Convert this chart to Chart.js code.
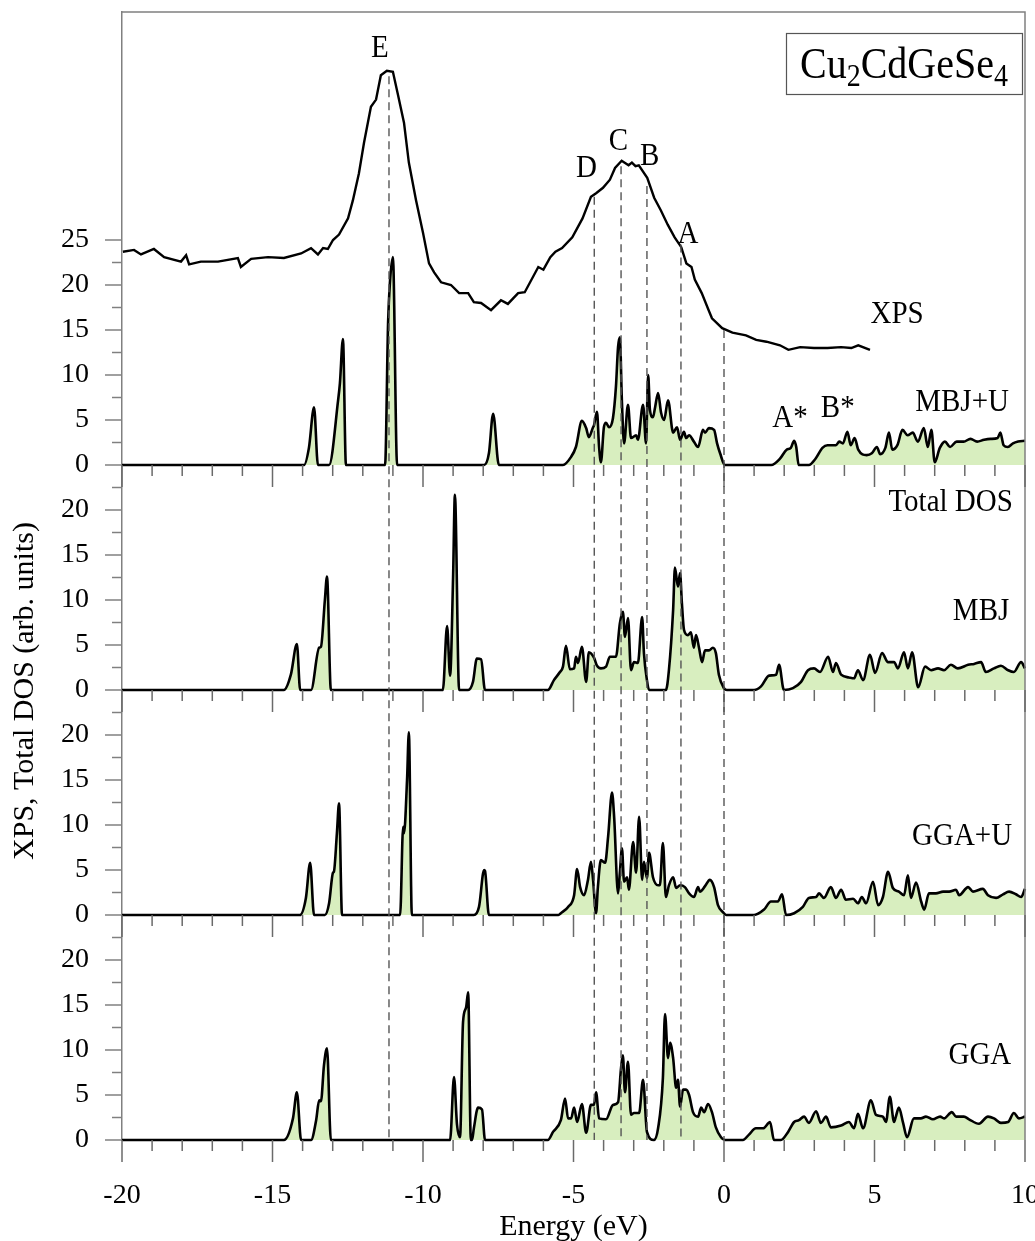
<!DOCTYPE html>
<html>
<head>
<meta charset="utf-8">
<title>Cu2CdGeSe4 XPS and total DOS</title>
<script src="https://cdn.jsdelivr.net/npm/chart.js@4.4.1/dist/chart.umd.min.js"></script>
<style>
  html, body { margin:0; padding:0; background:#ffffff; }
  #box { width:1035px; height:1241px; }
</style>
</head>
<body>
<div id="box"><canvas id="chart" width="1035" height="1241"></canvas></div>
<script>
// ---------------- data (energy in eV, intensity / DOS in arb. units) ----------------
const xpsCurve = [[-19.97,23.7],[-19.60,23.9],[-19.37,23.4],[-18.94,24.0],[-18.60,23.1],[-18.04,22.6],[-17.87,23.3],[-17.77,22.3],[-17.38,22.6],[-16.81,22.6],[-16.15,23.0],[-16.05,22.0],[-15.71,22.9],[-15.15,23.1],[-14.62,23.0],[-14.05,23.5],[-13.72,24.1],[-13.49,23.4],[-13.32,24.1],[-13.16,24.0],[-12.99,25.0],[-12.79,25.6],[-12.49,27.4],[-12.33,29.4],[-12.13,32.4],[-11.96,35.8],[-11.73,39.8],[-11.56,40.6],[-11.40,43.3],[-11.20,43.8],[-11.00,43.7],[-10.83,41.1],[-10.63,38.0],[-10.47,33.6],[-10.23,29.4],[-10.00,25.8],[-9.80,22.4],[-9.63,21.4],[-9.40,20.3],[-9.07,20.0],[-8.80,19.1],[-8.50,19.1],[-8.31,18.1],[-8.07,18.0],[-7.74,17.2],[-7.41,18.3],[-7.18,17.9],[-6.84,19.1],[-6.62,19.2],[-6.17,22.0],[-6.00,21.7],[-5.77,23.1],[-5.60,23.7],[-5.38,24.1],[-5.04,25.3],[-4.70,27.4],[-4.42,29.8],[-4.25,30.2],[-4.02,30.8],[-3.79,31.7],[-3.62,33.0],[-3.40,33.8],[-3.17,33.3],[-3.06,33.6],[-2.94,33.2],[-2.83,33.3],[-2.55,31.9],[-2.32,29.7],[-2.10,28.3],[-1.87,26.7],[-1.64,25.3],[-1.42,24.2],[-1.25,22.4],[-1.08,22.0],[-0.97,20.6],[-0.74,19.1],[-0.51,17.2],[-0.40,16.3],[-0.06,15.2],[0.28,14.7],[0.73,14.4],[1.07,13.9],[1.41,13.7],[1.86,13.3],[2.14,12.8],[2.53,13.1],[2.99,13.0],[3.44,13.0],[3.89,13.1],[4.23,13.0],[4.46,13.3],[4.85,12.8]];

const dosMBJU = [[-20,0],[-13.95,0],[-13.79,1.9],[-13.62,6.4],[-13.49,0],[-13.12,0],[-12.82,7.2],[-12.76,9.1],[-12.66,14.0],[-12.56,0],[-11.26,0],[-11.16,15.8],[-11.10,20.2],[-11.00,23.1],[-10.86,0],[-7.97,0],[-7.81,1.3],[-7.67,5.7],[-7.48,0],[-5.35,0],[-5.08,0.9],[-4.92,2.0],[-4.72,4.9],[-4.58,4.1],[-4.49,3.1],[-4.35,4.2],[-4.32,4.4],[-4.22,5.9],[-4.15,2.0],[-4.09,0.3],[-3.99,4.2],[-3.92,4.7],[-3.82,4.2],[-3.69,5.2],[-3.59,8.7],[-3.52,13.1],[-3.46,14.2],[-3.39,6.9],[-3.32,2.4],[-3.19,6.7],[-3.09,3.0],[-2.92,3.3],[-2.86,2.8],[-2.69,6.7],[-2.59,2.4],[-2.52,10.0],[-2.46,6.1],[-2.36,5.3],[-2.29,6.4],[-2.19,8.0],[-2.09,5.8],[-1.99,5.0],[-1.86,7.2],[-1.69,3.6],[-1.56,4.2],[-1.46,2.8],[-1.33,3.7],[-1.26,3.0],[-1.16,3.3],[-1.00,2.6],[-0.86,2.0],[-0.70,3.9],[-0.63,3.6],[-0.50,4.1],[-0.33,3.9],[-0.23,2.4],[-0.13,1.3],[0.03,0],[1.57,0],[1.86,0.7],[2.08,1.7],[2.22,1.9],[2.33,2.7],[2.40,2.0],[2.48,0],[2.82,0],[3.04,0.7],[3.27,1.9],[3.44,2.2],[3.72,2.2],[3.83,2.6],[3.95,2.4],[4.10,3.7],[4.21,2.2],[4.34,3.0],[4.46,1.7],[4.74,1.1],[4.91,1.3],[5.08,2.0],[5.19,1.2],[5.36,1.9],[5.48,3.6],[5.59,1.7],[5.76,2.2],[5.93,3.9],[6.10,3.3],[6.27,3.6],[6.44,2.6],[6.64,4.1],[6.77,2.0],[6.89,3.9],[7.00,0.3],[7.17,1.9],[7.34,2.6],[7.51,2.0],[7.73,2.6],[7.96,2.6],[8.19,2.9],[8.41,2.6],[8.64,2.8],[8.86,2.9],[9.09,3.0],[9.18,3.6],[9.29,2.2],[9.43,2.0],[9.60,2.4],[9.77,2.6],[10.0,2.7]];

const dosMBJ = [[-20,0],[-14.62,0],[-14.39,1.7],[-14.19,5.1],[-14.08,0],[-13.72,0],[-13.45,4.7],[-13.39,4.8],[-13.26,10.0],[-13.19,12.6],[-13.06,0],[-9.34,0],[-9.20,7.1],[-9.10,1.6],[-9.00,12.6],[-8.94,21.7],[-8.80,0],[-8.50,0],[-8.34,0.9],[-8.21,3.5],[-8.07,3.4],[-7.94,0],[-5.85,0],[-5.65,1.1],[-5.45,2.0],[-5.35,2.6],[-5.25,4.9],[-5.12,2.3],[-4.98,2.4],[-4.92,3.7],[-4.85,3.0],[-4.72,4.8],[-4.58,0.9],[-4.49,4.2],[-4.32,3.6],[-4.22,2.7],[-4.09,2.4],[-3.92,2.6],[-3.79,3.7],[-3.59,3.7],[-3.46,7.4],[-3.36,8.7],[-3.29,5.9],[-3.19,8.0],[-3.09,2.2],[-2.99,3.1],[-2.86,3.0],[-2.72,8.1],[-2.66,4.1],[-2.56,1.1],[-2.49,0],[-1.93,0],[-1.83,2.2],[-1.69,8.9],[-1.63,13.6],[-1.53,11.5],[-1.46,13.0],[-1.40,9.7],[-1.33,6.7],[-1.20,6.1],[-1.10,6.4],[-1.00,4.7],[-0.93,6.1],[-0.83,4.7],[-0.73,3.1],[-0.63,4.4],[-0.50,4.4],[-0.37,4.7],[-0.27,4.1],[-0.17,1.7],[0.00,0.2],[0.10,0],[1.00,0],[1.23,0.4],[1.50,1.6],[1.73,1.7],[1.83,2.8],[1.99,0],[2.29,0.2],[2.56,0.9],[2.79,2.2],[2.99,2.4],[3.19,2.0],[3.46,3.7],[3.62,2.0],[3.72,3.0],[3.89,1.7],[4.15,1.4],[4.32,1.3],[4.45,2.2],[4.62,1.1],[4.85,3.9],[5.02,1.9],[5.25,4.1],[5.45,3.1],[5.65,3.1],[5.78,2.4],[5.98,4.2],[6.11,2.4],[6.25,4.2],[6.45,0.3],[6.68,2.6],[6.88,2.2],[7.11,2.4],[7.31,2.2],[7.54,2.8],[7.77,2.4],[8.11,2.8],[8.31,2.9],[8.54,3.1],[8.70,2.0],[8.97,2.4],[9.20,2.7],[9.44,2.2],[9.63,2.0],[9.87,3.1],[10.0,2.4]];

const dosGGAU = [[-20,0],[-14.09,0],[-13.89,1.9],[-13.75,5.8],[-13.62,0],[-13.26,0],[-13.12,1.3],[-12.99,4.7],[-12.96,4.8],[-12.86,9.1],[-12.79,12.4],[-12.69,0],[-10.76,0],[-10.66,9.8],[-10.63,9.1],[-10.53,15.0],[-10.47,20.3],[-10.37,0],[-8.31,0],[-8.14,0.9],[-7.97,5.0],[-7.94,4.9],[-7.81,0],[-5.50,0],[-5.42,0.2],[-5.18,0.9],[-4.98,2.2],[-4.88,5.1],[-4.78,3.1],[-4.65,2.2],[-4.52,3.9],[-4.42,5.9],[-4.35,3.9],[-4.25,0.2],[-4.19,3.1],[-4.09,6.1],[-3.95,5.8],[-3.85,8.7],[-3.72,13.6],[-3.65,10.9],[-3.52,2.4],[-3.46,4.7],[-3.39,7.4],[-3.32,3.7],[-3.22,4.2],[-3.16,2.8],[-3.02,8.1],[-2.92,4.7],[-2.82,10.9],[-2.72,3.9],[-2.66,5.9],[-2.56,4.1],[-2.49,6.9],[-2.36,4.2],[-2.19,3.3],[-2.13,3.3],[-2.03,8.0],[-1.93,2.0],[-1.83,3.3],[-1.69,4.2],[-1.59,3.0],[-1.46,3.3],[-1.30,3.1],[-1.16,2.4],[-1.00,2.0],[-0.86,3.1],[-0.80,2.6],[-0.63,3.2],[-0.47,3.9],[-0.33,3.1],[-0.20,1.1],[-0.03,0.3],[0.07,0],[1.00,0],[1.33,0.6],[1.56,1.5],[1.79,1.5],[1.93,2.3],[2.06,0],[2.33,0.2],[2.62,0.9],[2.82,1.9],[3.06,2.0],[3.16,2.4],[3.32,1.9],[3.55,3.1],[3.72,1.9],[3.89,2.8],[4.05,1.7],[4.29,1.8],[4.45,1.3],[4.58,2.0],[4.72,1.3],[4.95,3.7],[5.12,1.1],[5.28,2.0],[5.45,4.8],[5.61,3.0],[5.81,2.6],[5.98,2.2],[6.11,4.4],[6.21,1.9],[6.38,3.6],[6.55,1.5],[6.65,0.6],[6.81,2.4],[7.04,2.4],[7.28,2.6],[7.48,2.6],[7.71,2.8],[7.81,2.2],[8.11,3.1],[8.27,2.6],[8.60,2.9],[8.77,2.2],[9.04,1.9],[9.27,2.3],[9.47,2.6],[9.70,2.3],[9.87,2.0],[10.0,2.9]];

const dosGGA = [[-20,0],[-14.62,0],[-14.32,2.4],[-14.19,5.3],[-14.05,0],[-13.72,0],[-13.55,2.2],[-13.45,4.4],[-13.39,4.3],[-13.29,8.3],[-13.19,10.2],[-13.06,0],[-9.10,0],[-8.97,7.0],[-8.87,1.7],[-8.77,0.3],[-8.67,13.1],[-8.57,14.7],[-8.50,16.4],[-8.41,0],[-8.37,0],[-8.31,1.3],[-8.17,3.6],[-8.04,3.4],[-7.94,0],[-5.85,0],[-5.68,0.9],[-5.42,2.2],[-5.28,4.6],[-5.18,2.4],[-5.08,2.4],[-4.98,3.6],[-4.88,2.0],[-4.72,4.0],[-4.58,0.8],[-4.42,3.9],[-4.32,3.9],[-4.25,5.3],[-4.15,2.4],[-3.92,2.3],[-3.69,3.9],[-3.52,4.2],[-3.42,8.0],[-3.36,9.4],[-3.29,5.3],[-3.19,8.7],[-3.09,2.8],[-2.99,3.0],[-2.82,3.0],[-2.69,6.7],[-2.56,0.9],[-2.33,0],[-2.19,1.3],[-2.03,6.9],[-1.96,14.0],[-1.86,9.1],[-1.79,10.8],[-1.69,9.1],[-1.59,5.8],[-1.53,6.7],[-1.46,3.7],[-1.36,5.6],[-1.26,5.6],[-1.16,5.0],[-1.03,3.1],[-0.86,2.6],[-0.76,3.6],[-0.66,3.1],[-0.53,4.0],[-0.40,3.1],[-0.27,1.4],[-0.10,0.3],[0.03,0],[0.63,0],[0.83,0.6],[1.06,1.3],[1.30,1.3],[1.53,2.0],[1.66,0],[1.89,0],[2.13,0.9],[2.33,2.0],[2.49,2.2],[2.66,2.6],[2.82,1.9],[3.06,3.2],[3.22,1.9],[3.39,2.6],[3.55,1.4],[3.89,1.6],[4.15,2.0],[4.32,1.3],[4.45,2.9],[4.62,1.3],[4.88,4.4],[5.05,2.8],[5.28,2.6],[5.38,2.0],[5.51,4.8],[5.65,2.0],[5.71,2.6],[5.81,3.6],[5.95,1.9],[6.08,0.3],[6.31,2.4],[6.54,2.4],[6.71,2.6],[6.94,2.3],[7.18,2.6],[7.31,2.4],[7.57,3.1],[7.71,2.6],[7.97,2.6],[8.14,2.3],[8.47,1.8],[8.77,2.6],[8.97,2.4],[9.20,1.9],[9.44,2.0],[9.63,3.0],[9.80,2.4],[10.0,2.6]];

// XPS features (dashed guide lines): energy and XPS intensity at the line top
const featureNames  = ['E', 'D', 'C', 'B', 'A', 'VBM'];
const featureEnergy = [-11.13, -4.31, -3.42, -2.56, -1.43, 0];
const featureTop    = [43.2, 29.8, 33.2, 31.0, 24.5, 15.0];

// tick values
const energyTicks = [-20, -15, -10, -5, 0, 5, 10];
const xpsTicks = [0, 2.5, 5, 7.5, 10, 12.5, 15, 17.5, 20, 22.5, 25];
const dosTicks = [0, 2.5, 5, 7.5, 10, 12.5, 15, 17.5, 20, 22.5];

// ---------------- presentation ----------------
const FONT = "'Liberation Serif', 'Times New Roman', serif";
const PANEL_AXES = ['yTop', 'yMBJ', 'yGGAU', 'yGGA'];
const FILL = '#d8eebf';
const STRETCH = 1.12;   // the original lettering is slightly tall

const textLabels = [
  {t:'E',        axis:'yTop',  x:-11.43, y:46.3},
  {t:'D',        axis:'yTop',  x:-4.57,  y:32.9},
  {t:'C',        axis:'yTop',  x:-3.51,  y:35.9},
  {t:'B',        axis:'yTop',  x:-2.47,  y:34.3},
  {t:'A',        axis:'yTop',  x:-1.20,  y:25.6},
  {t:'XPS',      axis:'yTop',  x:5.75,   y:16.7},
  {t:'A*',       axis:'yTop',  x:2.19,   y:5.2},
  {t:'B*',       axis:'yTop',  x:3.78,   y:6.3},
  {t:'MBJ+U',    axis:'yTop',  x:7.91,   y:6.9},
  {t:'Total DOS',axis:'yMBJ',  x:7.53,   y:20.8},
  {t:'MBJ',      axis:'yMBJ',  x:8.54,   y:8.7},
  {t:'GGA+U',    axis:'yGGAU', x:7.91,   y:8.7},
  {t:'GGA',      axis:'yGGA',  x:8.50,   y:9.4}
];

const pts = arr => arr.map(([x, y]) => ({x, y}));

function dosDataset(label, arr, axis) {
  return {
    label, data: pts(arr), yAxisID: axis,
    borderColor: '#000', borderWidth: 2.6, pointRadius: 0,
    fill: 'origin', backgroundColor: FILL,
    cubicInterpolationMode: 'monotone', clip: false
  };
}

function yAxis(weight, max, tickList, labelMax) {
  return {
    type: 'linear', position: 'left', stack: 'panels', stackWeight: weight,
    min: 0, max: max,
    afterBuildTicks: ax => { ax.ticks = tickList.map(v => ({value: v})); },
    afterFit: ax => { ax.width = 122; ax.paddingTop = 0; ax.paddingBottom = 0; },
    ticks: {
      autoSkip: false, padding: 33, color: '#000',
      font: {family: FONT, size: 28},
      callback: v => (Math.abs(v % 5) < 1e-6 && v <= labelMax ? String(v) : '')
    },
    grid: {display: false, drawTicks: false},
    border: {display: true, color: '#808080', width: 1.5}
  };
}

function tallText(ctx, text, x, y) {
  ctx.save();
  ctx.translate(x, y);
  ctx.scale(1, STRETCH);
  ctx.fillText(text, 0, 0);
  ctx.restore();
}

const overlay = {
  id: 'overlay',
  afterDraw(chart) {
    const {ctx, chartArea: ca, scales} = chart;
    const xs = scales.x;
    ctx.save();
    // frame: top + right
    ctx.strokeStyle = '#808080'; ctx.lineWidth = 1.5;
    ctx.beginPath();
    ctx.moveTo(ca.left, ca.top); ctx.lineTo(ca.right, ca.top); ctx.lineTo(ca.right, ca.bottom);
    ctx.stroke();
    // y ticks (outside, left)
    PANEL_AXES.forEach(id => {
      const ax = scales[id];
      ax.ticks.forEach(t => {
        const py = ax.getPixelForValue(t.value);
        const len = Math.abs(t.value % 5) < 1e-6 ? 17 : 10;
        ctx.beginPath(); ctx.moveTo(ca.left - len, py); ctx.lineTo(ca.left, py); ctx.stroke();
      });
    });
    // x ticks under every panel, every 1 eV
    ctx.strokeStyle = '#6a6a6a';
    PANEL_AXES.forEach(id => {
      const base = scales[id].getPixelForValue(0);
      for (let e = xs.min; e <= xs.max; e += 1) {
        const px = xs.getPixelForValue(e);
        const len = (e % 5 === 0) ? 22 : 11;
        ctx.beginPath(); ctx.moveTo(px, base); ctx.lineTo(px, base + len); ctx.stroke();
      }
    });
    // dashed guide lines
    ctx.setLineDash([8, 5]);
    ctx.strokeStyle = '#555'; ctx.lineWidth = 1.4;
    const yTop = scales.yTop;
    featureEnergy.forEach((e, i) => {
      const px = xs.getPixelForValue(e);
      ctx.beginPath();
      ctx.moveTo(px, yTop.getPixelForValue(featureTop[i]));
      ctx.lineTo(px, ca.bottom);
      ctx.stroke();
    });
    ctx.setLineDash([]);
    // text labels
    ctx.fillStyle = '#000';
    ctx.textAlign = 'center'; ctx.textBaseline = 'middle';
    ctx.font = `29px ${FONT}`;
    textLabels.forEach(l => {
      tallText(ctx, l.t, xs.getPixelForValue(l.x), scales[l.axis].getPixelForValue(l.y));
    });
    // y-axis title
    ctx.save();
    ctx.translate(25, 691);
    ctx.rotate(-Math.PI / 2);
    ctx.font = `30px ${FONT}`;
    ctx.fillText('XPS, Total DOS (arb. units)', 0, 0);
    ctx.restore();
    // compound box
    const bw = 236, bh = 61;
    const bx = ca.right - 3 - bw, by = ca.top + 21;
    ctx.strokeStyle = '#555'; ctx.lineWidth = 1.2;
    ctx.strokeRect(bx + 0.5, by + 0.5, bw, bh);
    const parts = [['Cu', 40, 0], ['2', 28, 8], ['CdGeSe', 40, 0], ['4', 28, 8]];
    let total = 0;
    parts.forEach(p => { ctx.font = `${p[1]}px ${FONT}`; p.push(ctx.measureText(p[0]).width); total += p[3]; });
    let cx = bx + (bw - total) / 2;
    const baseY = by + bh / 2 + 14;
    ctx.textAlign = 'left'; ctx.textBaseline = 'alphabetic';
    parts.forEach(p => {
      ctx.font = `${p[1]}px ${FONT}`;
      ctx.save();
      ctx.translate(cx, baseY + p[2]);
      ctx.scale(1, STRETCH);
      ctx.fillText(p[0], 0, 0);
      ctx.restore();
      cx += p[3];
    });
    ctx.restore();
  }
};

new Chart(document.getElementById('chart'), {
  type: 'line',
  data: {
    datasets: [
      {label: 'XPS', data: pts(xpsCurve), yAxisID: 'yTop', borderColor: '#000', borderWidth: 2.4,
       pointRadius: 0, fill: false, tension: 0},
      dosDataset('MBJ+U', dosMBJU, 'yTop'),
      dosDataset('MBJ', dosMBJ, 'yMBJ'),
      dosDataset('GGA+U', dosGGAU, 'yGGAU'),
      dosDataset('GGA', dosGGA, 'yGGA')
    ]
  },
  options: {
    responsive: false, animation: false, devicePixelRatio: 1,
    layout: {padding: {left: 0, right: 10, top: 12, bottom: 0}},
    plugins: {legend: {display: false}, tooltip: {enabled: false}},
    scales: {
      x: {
        type: 'linear', position: 'bottom', min: -20, max: 10,
        afterBuildTicks: ax => { ax.ticks = energyTicks.map(v => ({value: v})); },
        afterFit: ax => { ax.height = 101; ax.paddingLeft = 0; ax.paddingRight = 10; },
        ticks: {autoSkip: false, padding: 39, color: '#000', font: {family: FONT, size: 28},
                callback: v => String(v)},
        grid: {display: false, drawTicks: false},
        border: {display: false},
        title: {display: true, text: 'Energy (eV)', color: '#000',
                font: {family: FONT, size: 30, lineHeight: 1.0}, padding: {top: 0, bottom: -1}}
      },
      yGGA:  yAxis(1, 25, dosTicks, 20),
      yGGAU: yAxis(1, 25, dosTicks, 20),
      yMBJ:  yAxis(1, 25, dosTicks, 20),
      yTop:  yAxis(453 / 225, 453 / 9, xpsTicks, 25)
    }
  },
  plugins: [overlay]
});
</script>
</body>
</html>
